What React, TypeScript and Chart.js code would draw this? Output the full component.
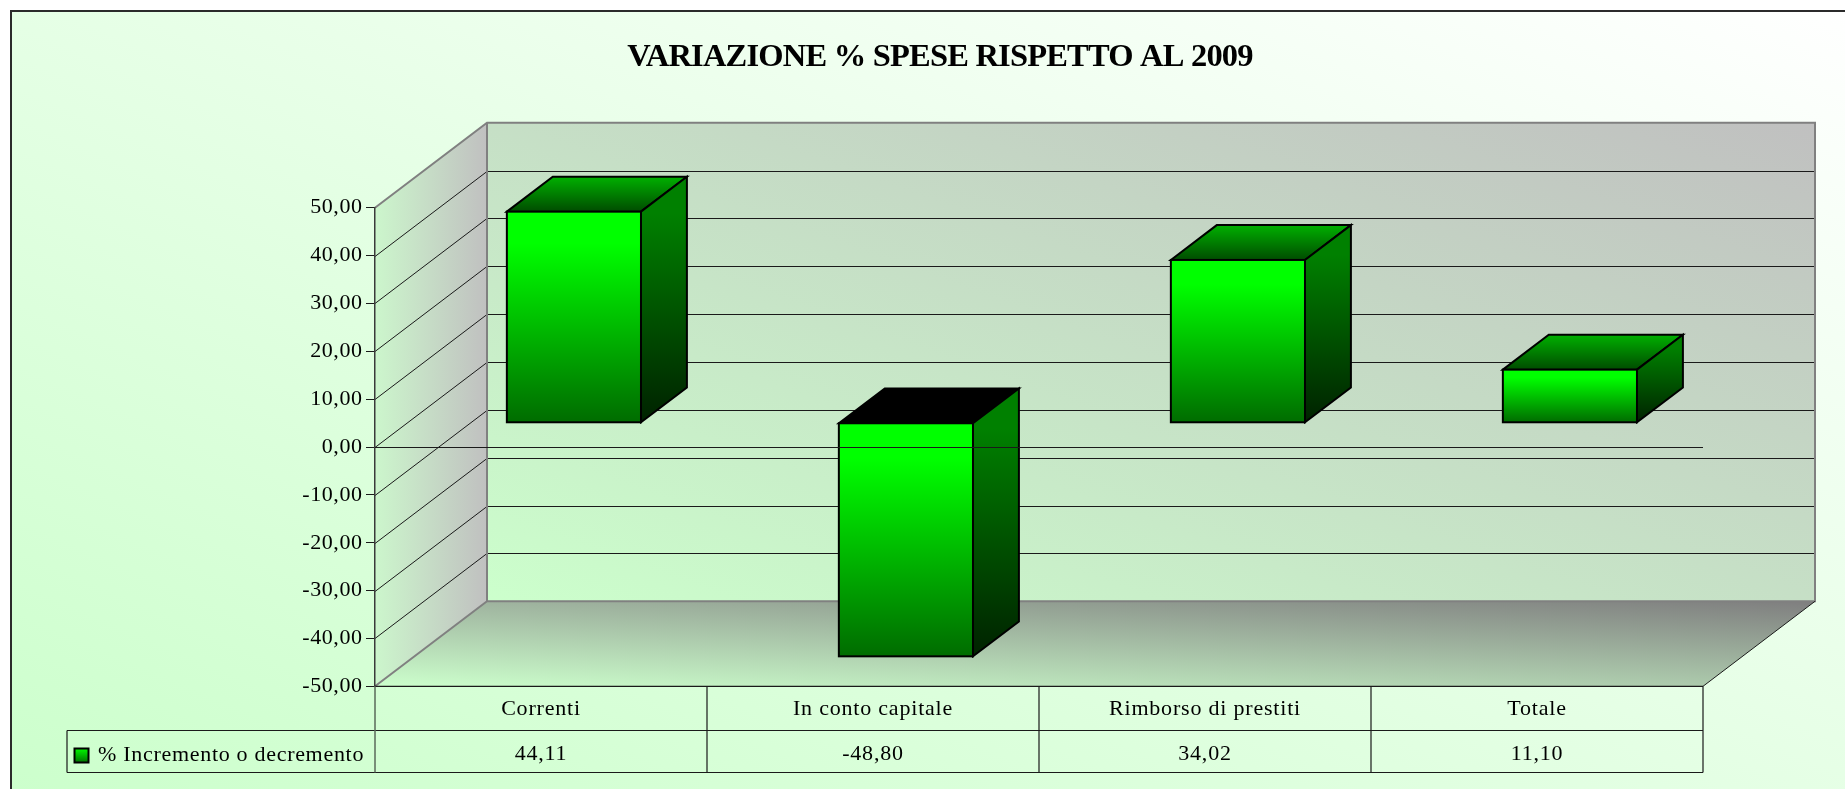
import React, { useEffect, useRef } from "react";
import { Chart, registerables } from "chart.js";

Chart.register(...registerables);

const categories = ["Correnti", "In conto capitale", "Rimborso di prestiti", "Totale"];
const values = [44.11, -48.8, 34.02, 11.1];
const seriesLabel = "% Incremento o decremento";
const chartTitle = "VARIAZIONE % SPESE RISPETTO AL 2009";
const gridValues = [50, 40, 30, 20, 10, 0, -10, -20, -30, -40, -50];

const fmt = (v: number) => v.toFixed(2).replace(".", ",");

const DX = 112;
const DY = 85;
const BAR_FRONT = 0.285;
const BAR_BACK = 0.695;
const FONT = "Liberation Serif";

function poly(ctx: CanvasRenderingContext2D, pts: number[][]) {
  ctx.beginPath();
  pts.forEach((p, i) => (i ? ctx.lineTo(p[0], p[1]) : ctx.moveTo(p[0], p[1])));
  ctx.closePath();
}

function withSpacing(target: any, method: string, spacing: string) {
  const original = target[method];
  target[method] = function (...args: any[]) {
    const ctx = target.ctx;
    const prev = ctx.letterSpacing;
    ctx.letterSpacing = spacing;
    original.apply(target, args);
    ctx.letterSpacing = prev;
  };
}

const scene = {
  id: "scene",
  afterLayout(chart: any) {
    if (chart.$spaced) return;
    chart.$spaced = true;
    withSpacing(chart.titleBlock, "draw", "-0.8px");
    withSpacing(chart.scales.x, "drawLabels", "0.8px");
    withSpacing(chart.scales.y, "drawLabels", "0.55px");
  },
  beforeDraw(chart: any) {
    const { ctx, chartArea: a, scales } = chart;
    const y = scales.y;
    const W = chart.width, H = chart.height;
    ctx.save();
    ctx.fillStyle = "#ffffff";
    ctx.fillRect(0, 0, W, H);
    // page background
    const bg = ctx.createLinearGradient(637, 1061, 1207, -273);
    bg.addColorStop(0, "#ccffcc");
    bg.addColorStop(1, "#ffffff");
    ctx.fillStyle = bg;
    ctx.fillRect(11, 11, W, H);
    ctx.strokeStyle = "#2b2b2b";
    ctx.lineWidth = 2;
    ctx.beginPath();
    ctx.moveTo(11, H + 5);
    ctx.lineTo(11, 11);
    ctx.lineTo(W + 5, 11);
    ctx.stroke();

    const L = a.left, R = a.right, T = a.top, B = a.bottom;
    const backL = L + DX, backR = R + DX, backT = T - DY, backB = B - DY;

    // back wall
    const cx = (backL + backR) / 2, cy = (backT + backB) / 2;
    const wg = ctx.createLinearGradient(cx - 152, cy + 423, cx + 152, cy - 423);
    wg.addColorStop(0, "#ccffcc");
    wg.addColorStop(1, "#c0c0c0");
    ctx.fillStyle = wg;
    ctx.fillRect(backL, backT, backR - backL, backB - backT);

    // side wall
    const sg = ctx.createLinearGradient(L, 0, backL, 0);
    sg.addColorStop(0, "#ccf6cc");
    sg.addColorStop(1, "#c0c0c0");
    ctx.fillStyle = sg;
    poly(ctx, [[L, T], [backL, backT], [backL, backB], [L, B]]);
    ctx.fill();

    // floor
    const fg = ctx.createLinearGradient(L, B, L + 7, B - 150);
    fg.addColorStop(0, "#ccffcc");
    fg.addColorStop(1, "#808080");
    ctx.fillStyle = fg;
    poly(ctx, [[L, B], [backL, backB], [backR, backB], [R, B]]);
    ctx.fill();

    // grid lines on the walls
    ctx.strokeStyle = "#1a1a1a";
    ctx.lineWidth = 1;
    for (const v of gridValues) {
      const py = Math.round(y.getPixelForValue(v)) + 0.5;
      if (v !== 50 && v !== -50) {
        ctx.beginPath();
        ctx.moveTo(L, py);
        ctx.lineTo(backL, py - DY);
        ctx.lineTo(backR, py - DY);
        ctx.stroke();
      }
    }

    // wall outlines
    ctx.strokeStyle = "#808080";
    ctx.lineWidth = 2;
    ctx.beginPath();
    ctx.moveTo(L, T);
    ctx.lineTo(backL, backT);
    ctx.lineTo(backR, backT);
    ctx.lineTo(backR, backB);
    ctx.lineTo(backL, backB);
    ctx.lineTo(backL, backT);
    ctx.moveTo(backL, backB);
    ctx.lineTo(L, B);
    ctx.stroke();
    ctx.strokeStyle = "#1a1a1a";
    ctx.lineWidth = 1;
    ctx.beginPath();
    ctx.moveTo(backR, backB);
    ctx.lineTo(R, B);
    ctx.stroke();
    ctx.restore();
  },
  afterDatasetsDraw(chart: any) {
    const { ctx, chartArea: a, scales } = chart;
    const y = scales.y, x = scales.x;
    const meta = chart.getDatasetMeta(0);
    ctx.save();
    ctx.lineJoin = "miter";
    meta.data.forEach((el: any) => {
      const { x: ex, y: ey, base, width } = el.getProps(["x", "y", "base", "width"], true);
      const fx = DX * BAR_FRONT + 1, fy = DY * BAR_FRONT;
      const bx = DX * BAR_BACK + 1, by = DY * BAR_BACK;
      const x0 = ex - width / 2 + fx, x1 = ex + width / 2 + fx;
      const top = Math.min(ey, base) - fy, bot = Math.max(ey, base) - fy;
      const ox = bx - fx, oy = by - fy;
      const negative = ey > base;

      ctx.strokeStyle = "#000000";
      ctx.lineWidth = 2;

      // top
      if (negative) {
        ctx.fillStyle = "#000000";
      } else {
        const g = ctx.createLinearGradient(0, top - oy, 0, top);
        g.addColorStop(0, "#00b000");
        g.addColorStop(1, "#004c00");
        ctx.fillStyle = g;
      }
      poly(ctx, [[x0, top], [x0 + ox, top - oy], [x1 + ox, top - oy], [x1, top]]);
      ctx.fill();
      ctx.stroke();

      // side
      const sg = ctx.createLinearGradient(0, top - oy, 0, bot);
      sg.addColorStop(0, "#008000");
      sg.addColorStop(0.15, "#008000");
      sg.addColorStop(1, "#002200");
      ctx.fillStyle = sg;
      poly(ctx, [[x1, top], [x1 + ox, top - oy], [x1 + ox, bot - oy], [x1, bot]]);
      ctx.fill();
      ctx.stroke();

      // face
      const g = ctx.createLinearGradient(0, top, 0, bot);
      g.addColorStop(0, "#00ff00");
      g.addColorStop(0.15, "#00ff00");
      g.addColorStop(1, "#006c00");
      ctx.fillStyle = g;
      ctx.fillRect(x0, top, x1 - x0, bot - top);
      ctx.strokeRect(x0, top, x1 - x0, bot - top);
    });

    // zero line in front of the bars
    const z = Math.round(y.getPixelForValue(0)) + 0.5;
    ctx.strokeStyle = "#1a1a1a";
    ctx.lineWidth = 1;
    ctx.beginPath();
    ctx.moveTo(a.left, z);
    ctx.lineTo(a.right, z);
    ctx.stroke();

    // data table
    const rowTop = 730.5, rowBot = 772.5;
    const half = (x.getPixelForValue(1) - x.getPixelForValue(0)) / 2;
    ctx.strokeStyle = "#1a1a1a";
    ctx.lineWidth = 1.2;
    ctx.beginPath();
    ctx.moveTo(a.left, a.bottom);
    ctx.lineTo(a.right, a.bottom);
    ctx.moveTo(67, rowTop);
    ctx.lineTo(a.right, rowTop);
    ctx.moveTo(67, rowBot);
    ctx.lineTo(a.right, rowBot);
    ctx.moveTo(67, rowTop);
    ctx.lineTo(67, rowBot);
    categories.forEach((_, i) => {
      const px = x.getPixelForValue(i) + half;
      ctx.moveTo(px, a.bottom);
      ctx.lineTo(px, rowBot);
    });
    ctx.stroke();
    ctx.strokeStyle = "#5a6a5a";
    ctx.lineWidth = 1.5;
    ctx.beginPath();
    ctx.moveTo(a.left, a.bottom);
    ctx.lineTo(a.left, rowBot);
    ctx.stroke();

    // legend key and label
    const kg = ctx.createLinearGradient(0, 748, 0, 763);
    kg.addColorStop(0, "#00ff00");
    kg.addColorStop(1, "#006c00");
    ctx.fillStyle = kg;
    ctx.strokeStyle = "#000000";
    ctx.lineWidth = 2;
    ctx.fillRect(74.5, 748.5, 14, 14);
    ctx.strokeRect(74.5, 748.5, 14, 14);
    ctx.fillStyle = "#000000";
    ctx.font = `22px "${FONT}"`;
    ctx.letterSpacing = "0.7px";
    ctx.textAlign = "left";
    ctx.textBaseline = "middle";
    ctx.fillText(chart.data.datasets[0].label, 98, 755);
    ctx.restore();
  },
};

export default function App() {
  const ref = useRef<HTMLCanvasElement>(null);
  useEffect(() => {
    const chart = new Chart(ref.current as HTMLCanvasElement, {
      type: "bar",
      data: {
        labels: categories,
        datasets: [
          {
            label: seriesLabel,
            data: values,
            backgroundColor: "rgba(0,0,0,0)",
            borderWidth: 0,
            barPercentage: 1,
            categoryPercentage: 0.404,
          },
        ],
      },
      options: {
        responsive: false,
        animation: false,
        devicePixelRatio: 1,
        layout: { autoPadding: false, padding: { left: 177, right: 142, top: 0, bottom: 0 } },
        plugins: {
          legend: { display: false },
          tooltip: { enabled: false },
          title: {
            display: true,
            text: chartTitle,
            color: "#000000",
            font: { family: FONT, size: 32.5, weight: "bold", lineHeight: 1.2 },
            padding: { top: 38, bottom: 130.7 },
          },
        },
        scales: {
          y: {
            min: -50,
            max: 50,
            afterFit(s: any) {
              s.width = 198;
            },
            ticks: {
              stepSize: 10,
              padding: 3.5,
              color: "#000000",
              font: { family: FONT, size: 22 },
              callback: (v: any) => fmt(Number(v)),
            },
            grid: { drawOnChartArea: false, drawTicks: true, tickLength: 9, color: "#1a1a1a" },
            border: { display: true, color: "#3a3a3a", width: 1.5 },
          },
          x: {
            afterFit(s: any) {
              s.height = 102.7;
            },
            grid: { display: false },
            border: { display: false },
            ticks: {
              autoSkip: false,
              maxRotation: 0,
              padding: -7.5,
              color: "#000000",
              font: { family: FONT, size: 22, lineHeight: 2.05 },
              callback: (_: any, i: number) => [categories[i], fmt(values[i])],
            },
          },
        },
      },
      plugins: [scene],
    } as any);
    return () => chart.destroy();
  }, []);
  return (
    <canvas
      ref={ref}
      width={1845}
      height={789}
      style={{ position: "fixed", left: 0, top: 0, display: "block" }}
    />
  );
}
